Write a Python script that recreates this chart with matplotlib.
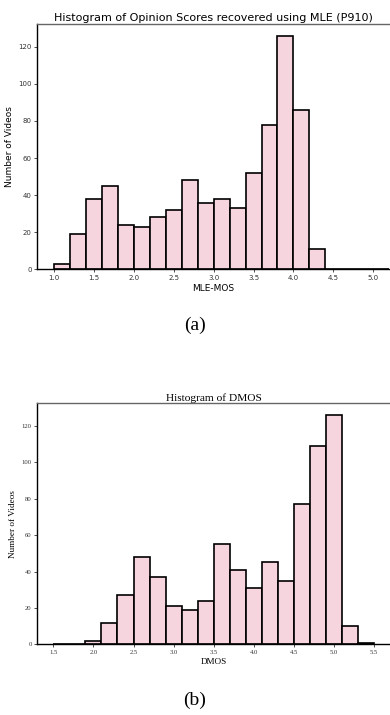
import matplotlib

matplotlib.use("Agg")
import matplotlib.pyplot as plt
import numpy as np

PINK = "#f6d5df"

# (a) MLE-MOS histogram, bin width 0.2 from 1.0
MOS_EDGES = np.round(np.arange(1.0, 5.21, 0.2), 2)
MOS_COUNTS = [3, 19, 38, 45, 24, 23, 28, 32, 48, 36, 38, 33, 52, 78, 126, 86,
              11, 0, 0, 0, 0]
MOS_TICKS = [1.0, 1.5, 2.0, 2.5, 3.0, 3.5, 4.0, 4.5, 5.0]

# (b) DMOS histogram, bin width 0.2 from 1.5
DMOS_EDGES = np.round(np.arange(1.5, 5.51, 0.2), 2)
DMOS_COUNTS = [0, 0, 2, 12, 27, 48, 37, 21, 19, 24, 55, 41, 31, 45, 35, 77,
               109, 126, 10, 1]
DMOS_TICKS = [1.5, 2.0, 2.5, 3.0, 3.5, 4.0, 4.5, 5.0, 5.5]
Y_TICKS = [0, 20, 40, 60, 80, 100, 120]


def panel(ax, edges, counts, ticks, xlim, family, title, xlabel, tsize, lsize,
          ticksize):
    centers = (edges[:-1] + edges[1:]) / 2
    ax.hist(centers, bins=edges, weights=counts, color=PINK,
            edgecolor="black", linewidth=1.2)
    ax.set_xlim(*xlim)
    ax.set_ylim(0, max(counts) * 1.05)
    ax.set_xticks(ticks)
    ax.set_yticks(Y_TICKS)
    ax.tick_params(labelsize=ticksize, length=2, width=0.6, pad=2,
                   colors="#333333")
    for lab in ax.get_xticklabels() + ax.get_yticklabels():
        lab.set_family(family)
    ax.spines["right"].set_visible(False)
    ax.spines["top"].set_color("#666666")
    for s in ("left", "bottom", "top"):
        ax.spines[s].set_linewidth(1.0)
    ax.set_title(title, fontsize=tsize, family=family, pad=2)
    ax.set_xlabel(xlabel, fontsize=lsize, family=family, labelpad=2)
    ax.set_ylabel("Number of Videos", fontsize=lsize, family=family, labelpad=3)


fig = plt.figure(figsize=(3.9, 7.15), dpi=100)
fig.patch.set_facecolor("white")

ax1 = fig.add_axes([0.0957, 0.6234, 0.9043, 0.343])
panel(ax1, MOS_EDGES, MOS_COUNTS, MOS_TICKS, (0.79, 5.21), "DejaVu Sans",
      "Histogram of Opinion Scores recovered using MLE (P910)", "MLE-MOS",
      8.0, 6.5, 5)

ax2 = fig.add_axes([0.0957, 0.0988, 0.9043, 0.337])
panel(ax2, DMOS_EDGES, DMOS_COUNTS, DMOS_TICKS, (1.3, 5.7), "Liberation Serif",
      "Histogram of DMOS", "DMOS", 8.2, 6.6, 4.8)

fig.text(0.5, 1 - 325 / 715, "(a)", ha="center", va="center",
         family="Liberation Serif", fontsize=14)
fig.text(0.5, 1 - 700 / 715, "(b)", ha="center", va="center",
         family="Liberation Serif", fontsize=14)

fig.savefig("out.png", dpi=100, facecolor="white")
plt.close(fig)
